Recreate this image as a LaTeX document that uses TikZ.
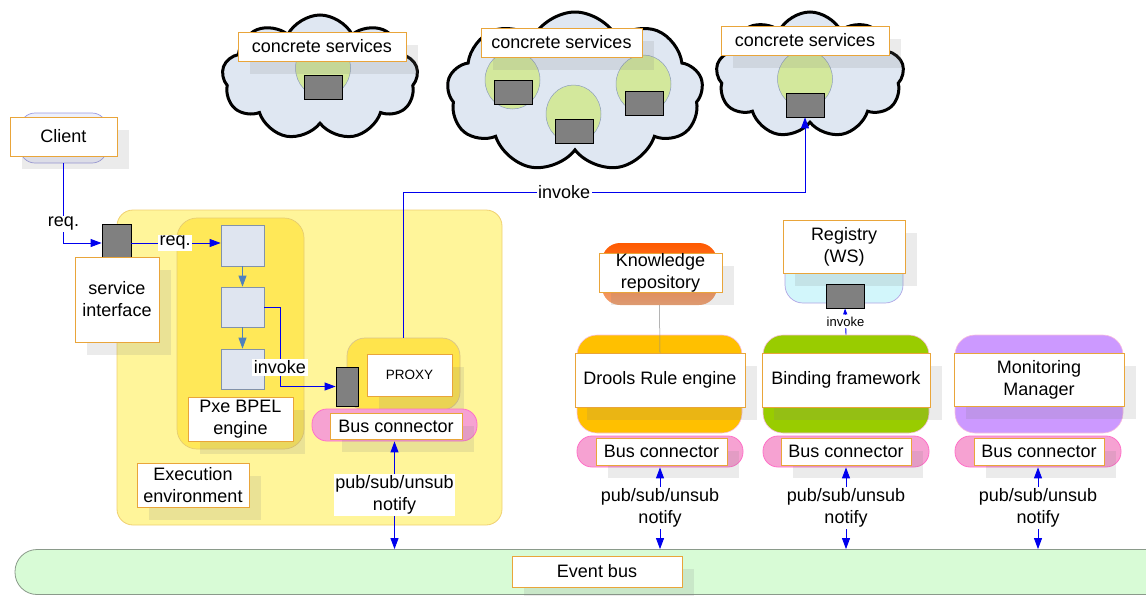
\documentclass[tikz,border=0pt]{standalone}
\usepackage{fontspec}
\setmainfont{Liberation Sans}
\usetikzlibrary{shapes.symbols,shapes.geometric,shadows,arrows.meta}
\definecolor{lblorange}{HTML}{E9A53A}
\definecolor{arrowblue}{HTML}{0000EE}
\definecolor{innerblue}{HTML}{4F81BD}
\definecolor{cloudfill}{HTML}{DFE7F2}
\definecolor{spherefill}{HTML}{D3E89C}
\definecolor{spheredraw}{HTML}{8C9CBC}
\definecolor{portgray}{HTML}{808080}
\definecolor{execfill}{HTML}{FFF59A}
\definecolor{execdraw}{HTML}{F0D070}
\definecolor{bpelfill}{HTML}{FFE858}
\definecolor{bpeldraw}{HTML}{E6CC70}
\definecolor{proxyfill}{HTML}{FFE44C}
\definecolor{proxydraw}{HTML}{D8C48C}
\definecolor{boxfill}{HTML}{DFE5F0}
\definecolor{boxdraw}{HTML}{8292AA}
\definecolor{pinkfill}{HTML}{F6A2D2}
\definecolor{pinkdraw}{HTML}{FF70C8}
\definecolor{goldfill}{HTML}{FFC000}
\definecolor{greenfill}{HTML}{99CC00}
\definecolor{purplefill}{HTML}{CC99FF}
\definecolor{korange}{HTML}{FF5A00}
\definecolor{ksalmon}{HTML}{F0A070}
\definecolor{regfill}{HTML}{D2F6FB}
\definecolor{regdraw}{HTML}{B0A4E4}
\definecolor{clientfill}{HTML}{EEF0FB}
\definecolor{clientdraw}{HTML}{9A9AE0}
\definecolor{busfill}{HTML}{D8FBD6}
\definecolor{busdraw}{HTML}{8A9A8A}
\begin{document}
\begin{tikzpicture}[x=1pt,y=-1pt,
  every node/.style={font=\fontsize{18}{22}\selectfont, inner sep=0pt},
  lbl/.style={draw=lblorange, line width=0.9pt, fill=white, align=center,
    general shadow={fill=black!50, opacity=0.16, shadow xshift=12pt, shadow yshift=-13pt}},
  cloudshape/.style={cloud, cloud puffs=9, cloud puff arc=125, cloud ignores aspect,
    draw=black, line width=3pt, fill=cloudfill},
  sphere/.style={ellipse, minimum width=55pt, minimum height=58pt, fill=spherefill, draw=spheredraw, line width=0.5pt},
  port/.style={rectangle, fill=portgray, draw=black, line width=0.8pt},
  bpelbox/.style={rectangle, fill=boxfill, draw=boxdraw, line width=0.7pt, minimum width=43pt},
  pill/.style={rectangle, rounded corners=15pt, fill=pinkfill, draw=pinkdraw, line width=0.8pt},
  compbg/.style={rectangle, rounded corners=20pt, draw=pinkfill!70, line width=0.6pt},
  flow/.style={draw=arrowblue, line width=0.9pt, -{Triangle[length=11pt,width=8pt]}},
  flowboth/.style={draw=arrowblue, line width=0.9pt, {Triangle[length=11pt,width=8pt]}-{Triangle[length=11pt,width=8pt]}},
  innerflow/.style={draw=innerblue, line width=0.9pt, -{Triangle[length=11pt,width=8pt]}},
  lab/.style={fill=white, inner sep=1.5pt, align=center}]
\useasboundingbox (0,0) rectangle (1146,595);

% Event bus
\node[rectangle, rounded corners=22pt, fill=busfill, draw=busdraw, line width=0.8pt,
  minimum width=1154pt, minimum height=45pt] (eb) at (592,572) {};
\node[lbl, minimum width=170pt, minimum height=31pt] (ebl) at (597,571.5) {Event bus};

% Clouds
\node[cloudshape, minimum width=196pt, minimum height=125pt] (cl1) at (320,77.5) {};
\node[sphere] (s1) at (323,68) {};
\node[port, minimum width=38pt, minimum height=24pt] (p1) at (323,87) {};
\node[lbl, minimum width=168pt, minimum height=29pt] (cs1) at (322,46.5) {concrete services};

\node[cloudshape, minimum width=256pt, minimum height=160pt] (cl2) at (575,92) {};
\node[sphere] (s2a) at (512.5,80) {};
\node[port, minimum width=38pt, minimum height=24pt] (p2a) at (513,92) {};
\node[sphere] (s2b) at (573.5,114) {};
\node[port, minimum width=38pt, minimum height=24pt] (p2b) at (574.5,131) {};
\node[sphere] (s2c) at (643.5,84) {};
\node[port, minimum width=38pt, minimum height=24pt] (p2c) at (644,103.5) {};
\node[lbl, minimum width=161pt, minimum height=29pt] (cs2) at (561.5,42.5) {concrete services};

\node[cloudshape, minimum width=188pt, minimum height=126pt] (cl3) at (810,75) {};
\node[sphere] (s3) at (805,79) {};
\node[port, minimum width=38pt, minimum height=24pt] (p3) at (805,105) {};
\node[lbl, minimum width=168pt, minimum height=29pt] (cs3) at (805,40.5) {concrete services};

% Execution environment
\node[rectangle, rounded corners=16pt, fill=execfill, draw=execdraw, line width=0.8pt,
  minimum width=385pt, minimum height=315pt] (ex) at (309.5,367.5) {};
\node[rectangle, rounded corners=20pt, fill=bpelfill, draw=bpeldraw, line width=0.7pt,
  minimum width=127pt, minimum height=231pt] (bp) at (240.5,333.5) {};
\node[bpelbox, minimum height=41pt] (b1) at (242.5,245.5) {};
\node[bpelbox, minimum height=40pt] (b2) at (242.5,307) {};
\node[bpelbox, minimum height=40pt] (b3) at (242.5,369) {};
\node[lbl, minimum width=105pt, minimum height=44pt] (pxe) at (240.5,419) {Pxe BPEL\\engine};
\node[rectangle, rounded corners=18pt, fill=proxyfill, draw=proxydraw, line width=0.7pt,
  minimum width=113pt, minimum height=72pt] (pc) at (403.5,374) {};
\node[lbl, minimum width=85pt, minimum height=42pt, font=\fontsize{13.5}{16}\selectfont] (prx) at (409.5,375) {PROXY};
\node[port, minimum width=22pt, minimum height=39pt] (pp) at (347,386.5) {};
\node[pill, minimum width=165pt, minimum height=32pt] (xp) at (394.5,425) {};
\node[lbl, minimum width=132pt, minimum height=26pt] (xbl) at (396,426) {Bus connector};
\node[lbl, minimum width=112pt, minimum height=44pt] (el) at (193,485) {Execution\\environment};

% Client and service interface
\node[rectangle, rounded corners=15pt, fill=clientfill, draw=clientdraw, line width=0.7pt,
  minimum width=87pt, minimum height=50pt] (clbg) at (63.5,138) {};
\node[lbl, minimum width=107pt, minimum height=39pt] (cli) at (63.5,136.5) {Client};
\node[port, minimum width=29pt, minimum height=38pt] (sp) at (116.5,243) {};
\node[lbl, minimum width=84pt, minimum height=85pt] (si) at (117,299.5) {service\\interface};

% Knowledge repository
\node[rectangle, rounded corners=18pt, top color=korange, bottom color=ksalmon, draw=none,
  minimum width=115pt, minimum height=62pt] (kr) at (659.5,274) {};
\node[lbl, minimum width=123pt, minimum height=39pt] (kl) at (660.5,272.5) {Knowledge\\repository};

% Registry
\node[rectangle, rounded corners=18pt, fill=regfill, draw=regdraw, line width=0.7pt,
  minimum width=118pt, minimum height=50pt] (rg) at (844,278) {};
\node[lbl, minimum width=122pt, minimum height=53pt] (rl) at (844,246.5) {Registry\\(WS)};
\node[port, minimum width=38pt, minimum height=24pt] (rp) at (845,296) {};

% Drools
\node[compbg, fill=goldfill, minimum width=165pt, minimum height=98pt] (dr) at (659.5,384) {};
\node[lbl, minimum width=170pt, minimum height=54pt] (dl) at (660,380) {Drools Rule engine};
\node[pill, minimum width=166pt, minimum height=31pt] (dp) at (660,451.5) {};
\node[lbl, minimum width=131pt, minimum height=27pt] (dbl) at (661.5,451.5) {Bus connector};

% Binding
\node[compbg, fill=greenfill, minimum width=166pt, minimum height=98pt] (bf) at (846,384) {};
\node[lbl, minimum width=168pt, minimum height=54pt] (bl) at (846,380) {Binding framework};
\node[pill, minimum width=166pt, minimum height=31pt] (bpl) at (846,451.5) {};
\node[lbl, minimum width=130pt, minimum height=27pt] (bbl) at (846,451.5) {Bus connector};

% Monitoring
\node[compbg, fill=purplefill, minimum width=168pt, minimum height=98pt] (mm) at (1039,384) {};
\node[lbl, minimum width=170pt, minimum height=53pt] (ml) at (1039,379.5) {Monitoring\\Manager};
\node[pill, minimum width=166pt, minimum height=31pt] (mp) at (1038,451.5) {};
\node[lbl, minimum width=130pt, minimum height=27pt] (mbl) at (1039,451.5) {Bus connector};

% Connectors
\draw[flow] (clbg.south) |- node[lab, pos=0.38] (rq1) {req.} (sp.west);
\draw[flow] (sp.east) -- node[lab, pos=0.49] (rq2) {req.} (sp.east -| b1.west);
\draw[innerflow] (b1) -- (b2);
\draw[innerflow] (b2) -- (b3);
\coordinate (k1) at (280,307);
\draw[flow] (b2.east) -- (k1) |- node[lab, pos=0.38] (iv1) {invoke} (pp.west);
\coordinate (k2) at (805,192);
\draw[flow] (pc.north) |- node[lab, pos=0.7] (iv2) {invoke} (k2) -- (p3.south);
\draw[flow, -{Triangle[length=6pt,width=4pt]}] (bf.north) -- node[lab, font=\fontsize{13}{15}\selectfont] (iv3) {invoke} (rp.south);
\draw[black!45, line width=0.5pt] (kr.south) -- (dl.north);

\draw[flowboth] (xp.south |- eb.north) -- node[lab] (ps1) {pub/sub/unsub\\notify} (xp.south);
\draw[flowboth] (dp.south |- eb.north) -- node[lab] (ps2) {pub/sub/unsub\\notify} (dp.south);
\draw[flowboth] (bpl.south |- eb.north) -- node[lab] (ps3) {pub/sub/unsub\\notify} (bpl.south);
\draw[flowboth] (mp.south |- eb.north) -- node[lab] (ps4) {pub/sub/unsub\\notify} (mp.south);
\end{tikzpicture}
\end{document}
